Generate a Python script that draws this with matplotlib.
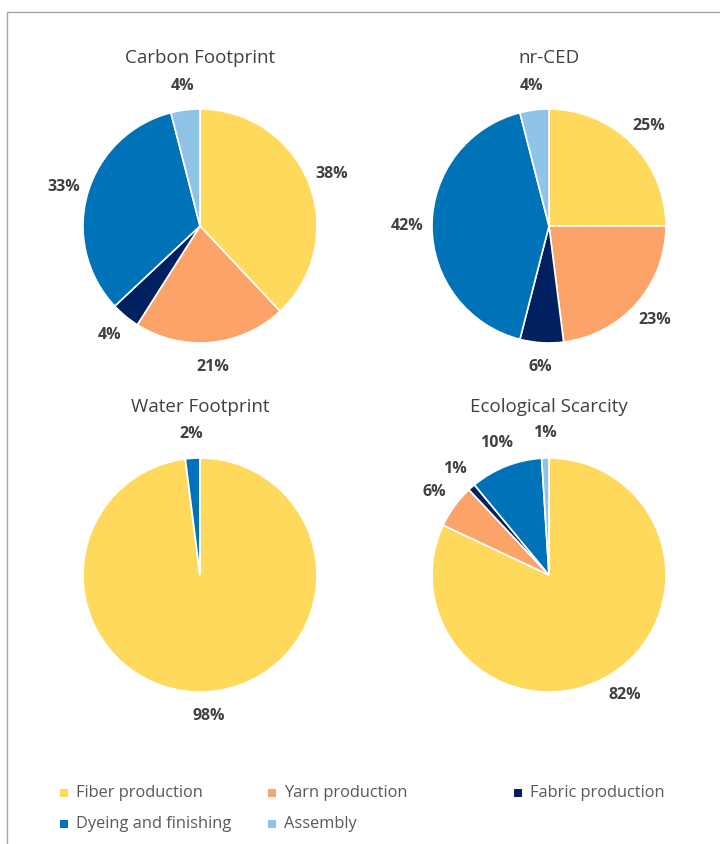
import matplotlib.pyplot as plt
import numpy as np
from matplotlib.patches import Rectangle

plt.rcParams['font.family'] = ['Open Sans', 'DejaVu Sans']

# dataset
stages = ['Fiber production', 'Yarn production', 'Fabric production',
          'Dyeing and finishing', 'Assembly']
colors = ['#FFD95C', '#FCA36A', '#002060', '#0072B8', '#8FC4E8']

titles = ['Carbon Footprint', 'nr-CED', 'Water Footprint', 'Ecological Scarcity']
carbon = [38, 21, 4, 33, 4]
nr_ced = [25, 23, 6, 42, 4]
water = [98, 0, 0, 2, 0]
eco = [82, 6, 1, 10, 1]
shares = [carbon, nr_ced, water, eco]

W, H = 720, 844
fig = plt.figure(figsize=(W / 100, H / 100), dpi=100)

# pie centres in pixels (from top-left), radius in pixels
centres = [(200, 226), (549, 226), (200, 575), (549, 575)]
R = 117
half = 175
lim = half / R

for title, vals, (cx, cy) in zip(titles, shares, centres):
    ax = fig.add_axes([(cx - half) / W, 1 - (cy + half) / H, 2 * half / W, 2 * half / H])
    wedges, _ = ax.pie(vals, colors=colors, startangle=90, counterclock=False,
                       wedgeprops=dict(edgecolor='white', linewidth=1.2))
    for w, v in zip(wedges, vals):
        if v == 0:
            continue
        ang = np.deg2rad((w.theta1 + w.theta2) / 2)
        ax.text(1.21 * np.cos(ang), 1.21 * np.sin(ang), f'{v}%', ha='center', va='center',
                fontsize=11.5, fontweight='bold', color='#404040')
    ax.set_xlim(-lim, lim)
    ax.set_ylim(-lim, lim)
    ax.set_aspect('equal')
    ax.axis('off')
    fig.text(cx / W, 1 - (cy - 168) / H, title, ha='center', va='center',
             fontsize=13.5, color='#404040')

# legend, fixed column positions like the original
leg_pos = [(64, 793), (272, 793), (518, 793), (64, 824), (272, 824)]
for name, c, (x, y) in zip(stages, colors, leg_pos):
    fig.add_artist(Rectangle(((x - 4) / W, 1 - (y + 4) / H), 8 / W, 8 / H,
                             transform=fig.transFigure, facecolor=c, edgecolor='none'))
    fig.text((x + 12) / W, 1 - y / H, name, ha='left', va='center',
             fontsize=11.8, color='#595959')

# outer frame
fig.add_artist(Rectangle((7 / W, -0.1), 2, 1.1 - 12 / H, transform=fig.transFigure,
                         fill=False, edgecolor='#A6A6A6', linewidth=1))

fig.savefig('out.png', dpi=100, facecolor='white')
